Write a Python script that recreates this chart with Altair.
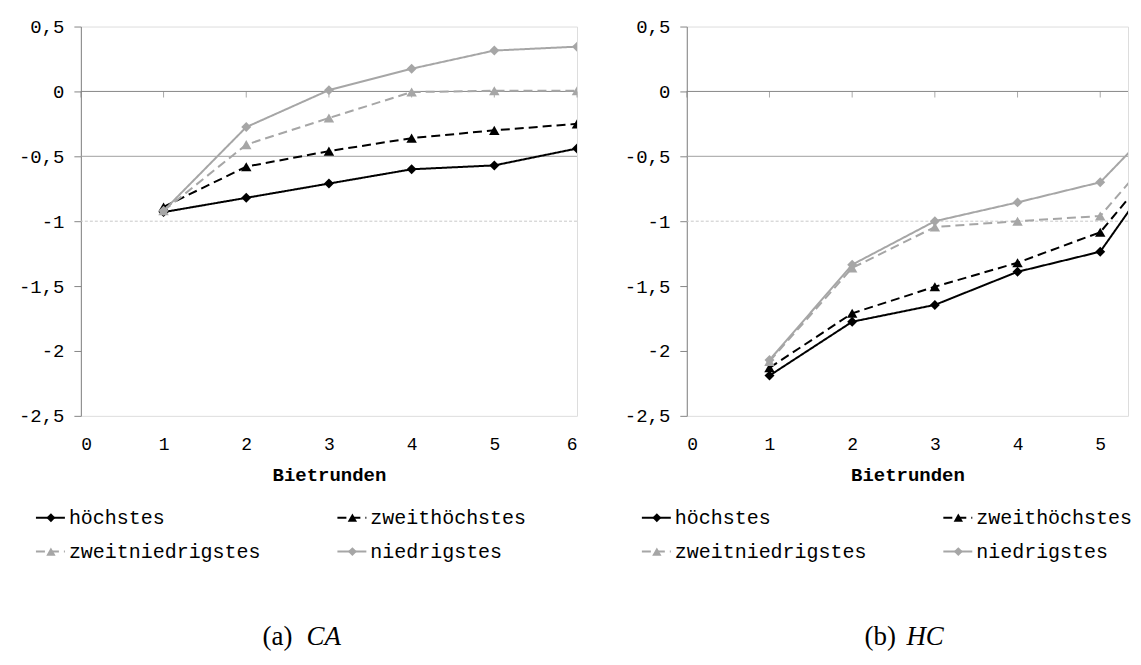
import altair as alt
import pandas as pd

# ---------------- data ----------------
rounds = [1, 2, 3, 4, 5, 6]
series_names = ["höchstes", "zweithöchstes", "zweitniedrigstes", "niedrigstes"]

ca_hoechstes = [-0.93, -0.82, -0.71, -0.60, -0.57, -0.44]
ca_zweithoechstes = [-0.89, -0.58, -0.46, -0.36, -0.30, -0.25]
ca_zweitniedrigstes = [-0.92, -0.41, -0.205, -0.005, 0.005, 0.005]
ca_niedrigstes = [-0.92, -0.275, 0.01, 0.175, 0.315, 0.345]

hc_hoechstes = [-2.19, -1.775, -1.645, -1.39, -1.235, -0.33]
hc_zweithoechstes = [-2.13, -1.71, -1.505, -1.32, -1.085, -0.32]
hc_zweitniedrigstes = [-2.08, -1.36, -1.045, -1.0, -0.96, -0.22]
hc_niedrigstes = [-2.07, -1.335, -1.0, -0.855, -0.70, -0.04]

x_ticks = [0, 1, 2, 3, 4, 5, 6]
y_ticks = [0.5, 0, -0.5, -1, -1.5, -2, -2.5]
axis_line_value = 0
grid_solid_values = [-0.5]
grid_dashed_values = [-1]

x_title = "Bietrunden"
captions = [("(a)", "CA"), ("(b)", "HC")]

# ---------------- styling ----------------
MONO = "Liberation Mono"
SERIF = "Liberation Serif"
BLACK = "#000000"
GRAY = "#a6a6a6"
AX = "#868686"

styles = {
    "höchstes": dict(color=BLACK, dash=[1, 0], shape="diamond", size=100),
    "zweithöchstes": dict(color=BLACK, dash=[9, 5], shape="triangle-up", size=110),
    "zweitniedrigstes": dict(color=GRAY, dash=[9, 5], shape="triangle-up", size=110),
    "niedrigstes": dict(color=GRAY, dash=[1, 0], shape="diamond", size=100),
}

UNIT = 497 / 6.0
PLOT_H = 390


def long_df(vals):
    rows = []
    for name, v in zip(series_names, vals):
        for r, y in zip(rounds, v):
            rows.append({"series": name, "x": r, "y": y})
    return pd.DataFrame(rows)


def panel(vals, width, caption, cap_x0, cap_x1):
    xmax = width / UNIT
    df = long_df(vals)
    xs = alt.Scale(domain=[0, xmax], nice=False, zero=False)
    ys = alt.Scale(domain=[-2.5, 0.5], nice=False, zero=False)
    vis_ticks = [t for t in x_ticks if t <= xmax]
    x_axis = alt.Axis(
        values=vis_ticks, grid=False, domain=False, ticks=False,
        tickSize=0, labelPadding=20, labelFont=MONO, labelFontSize=18, labelColor="black",
        format="d", title=x_title, titleFont=MONO, titleFontSize=19, titleFontWeight="bold",
        titleColor="black", titlePadding=12,
    )
    y_axis = alt.Axis(
        values=y_ticks, grid=False, domainColor=AX, tickColor=AX, tickSize=7,
        labelPadding=10, labelFont=MONO, labelFontSize=19, labelColor="black",
        format=".2~f", title=None,
        labelExpr="replace(replace(datum.label, '.', ','), '\u2212', '-')",
    )
    X = alt.X("x:Q", scale=xs, axis=x_axis)
    Y = alt.Y("y:Q", scale=ys, axis=y_axis)

    layers = []
    layers.append(alt.Chart(pd.DataFrame({"y": grid_dashed_values})).mark_rule(
        color="#c8c8c8", strokeWidth=1, strokeDash=[3, 2]).encode(y=Y))
    layers.append(alt.Chart(pd.DataFrame({"y": grid_solid_values})).mark_rule(
        color="#a0a0a0", strokeWidth=1).encode(y=Y))
    layers.append(alt.Chart(pd.DataFrame({"y": [axis_line_value]})).mark_rule(
        color=AX, strokeWidth=1).encode(y=Y))
    tick_df = pd.DataFrame({"x": vis_ticks, "y": [axis_line_value] * len(vis_ticks)})
    layers.append(alt.Chart(tick_df).mark_tick(
        orient="vertical", size=6, thickness=1, yOffset=3, color=AX).encode(x=X, y=Y))

    for name in series_names:
        st = styles[name]
        sub = alt.Chart(df).transform_filter(alt.datum.series == name)
        layers.append(sub.mark_line(color=st["color"], strokeWidth=2, strokeDash=st["dash"],
                                    clip=True).encode(x=X, y=Y))
        layers.append(sub.mark_point(shape=st["shape"], size=st["size"], filled=True, opacity=1,
                                     color=st["color"], clip=True).encode(x=X, y=Y))

    # legend (2 columns x 2 rows) below the plot
    col_x = [-45, 257]
    row_y = [492, 526]
    for i, name in enumerate(series_names):
        st = styles[name]
        lx = col_x[i % 2]
        ly = row_y[i // 2]
        one = alt.Chart(pd.DataFrame({"series": [name]}))
        layers.append(one.mark_rule(color=st["color"], strokeWidth=2, strokeDash=st["dash"]).encode(
            x=alt.value(lx), x2=alt.value(lx + 29), y=alt.value(ly)))
        layers.append(one.mark_point(shape=st["shape"], size=st["size"] * 0.8, filled=True,
                                     opacity=1, color=st["color"]).encode(
            x=alt.value(lx + 15), y=alt.value(ly)))
        layers.append(one.mark_text(align="left", baseline="middle", font=MONO, fontSize=20,
                                    color="black").encode(
            x=alt.value(lx + 33), y=alt.value(ly), text="series:N"))

    # caption
    cap = alt.Chart(pd.DataFrame({"a": [caption[0]], "b": [caption[1]]}))
    layers.append(cap.mark_text(align="left", baseline="middle", font=SERIF, fontSize=27,
                                color="black").encode(x=alt.value(cap_x0), y=alt.value(612), text="a:N"))
    layers.append(cap.mark_text(align="left", baseline="middle", font=SERIF, fontSize=27,
                                fontStyle="italic", color="black").encode(
        x=alt.value(cap_x1), y=alt.value(612), text="b:N"))

    return alt.layer(*layers).properties(width=width, height=PLOT_H)


left = panel([ca_hoechstes, ca_zweithoechstes, ca_zweitniedrigstes, ca_niedrigstes],
             497, captions[0], 182, 226)
right = panel([hc_hoechstes, hc_zweithoechstes, hc_zweitniedrigstes, hc_niedrigstes],
              442, captions[1], 178, 220)

chart = alt.hconcat(left, right, spacing=45).properties(
    padding={"left": 9, "top": 8, "right": 0, "bottom": 0}
).configure_view(stroke=None).configure(background="white")

chart.save("out.html", embed_options={"renderer": "svg", "actions": False})
